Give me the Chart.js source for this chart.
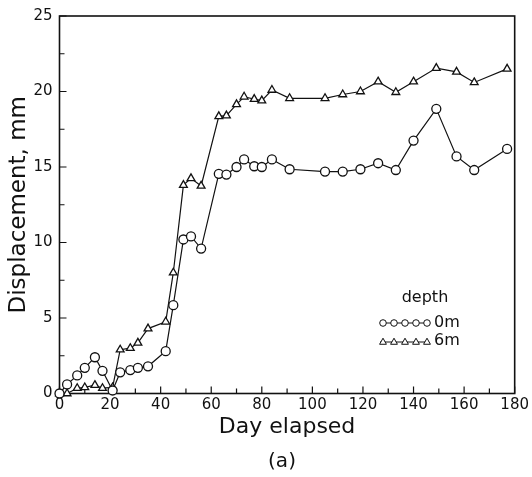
<!DOCTYPE html>
<html>
<head>
<meta charset="utf-8">
<script src="https://cdn.jsdelivr.net/npm/chart.js@4.4.1/dist/chart.umd.min.js"></script>
<style>
  html, body { margin: 0; padding: 0; background: #fff; }
  #wrap { width: 532px; height: 477px; position: relative; }
</style>
</head>
<body>
<div id="wrap"><canvas id="dispChart"></canvas></div>
<script>
// data
const days = [0, 3, 7, 10, 14, 17, 21, 24, 28, 31, 35, 42, 45, 49, 52, 56, 63, 66, 70, 73,
              77, 80, 84, 91, 105, 112, 119, 126, 133, 140, 149, 157, 164, 177];
const disp0m = [0, 0.6, 1.2, 1.7, 2.4, 1.5, 0.2, 1.4, 1.55, 1.7, 1.8, 2.8, 5.85, 10.2, 10.4, 9.6,
                14.55, 14.5, 15.0, 15.5, 15.05, 15.0, 15.5, 14.85, 14.7, 14.7, 14.85, 15.25, 14.8,
                16.75, 18.85, 15.7, 14.8, 16.2];
const disp6m = [0, 0, 0.35, 0.4, 0.55, 0.35, 0.4, 2.9, 3.0, 3.35, 4.3, 4.75, 8.0, 13.8, 14.25, 13.75,
                18.35, 18.4, 19.15, 19.65, 19.5, 19.4, 20.1, 19.55, 19.55, 19.8, 20.0, 20.65, 19.95,
                20.65, 21.55, 21.3, 20.6, 21.5];
const seriesLabels = ['0m', '6m'];
const xTicks = [0, 20, 40, 60, 80, 100, 120, 140, 160, 180];
const yTicks = [0, 5, 10, 15, 20, 25];

document.addEventListener("DOMContentLoaded", function () {
    try {
        Chart.defaults.font.family = "'DejaVu Sans', sans-serif";
        Chart.defaults.color = '#111';

        const ink = '#111';

        // small marker helpers (legend only)
        function circleAt(ctx, x, y, r) {
            ctx.beginPath();
            ctx.arc(x, y, r, 0, Math.PI * 2);
            ctx.fill();
            ctx.stroke();
        }
        function triangleAt(ctx, x, y, r) {
            ctx.beginPath();
            ctx.moveTo(x, y - r);
            ctx.lineTo(x + r * 0.9, y + r * 0.6);
            ctx.lineTo(x - r * 0.9, y + r * 0.6);
            ctx.closePath();
            ctx.fill();
            ctx.stroke();
        }

        // ==========================================
        // frame + inward ticks
        // ==========================================
        const frameTicks = {
            id: 'frameTicks',
            beforeDatasetsDraw(chart) {
                const ctx = chart.ctx;
                const a = chart.chartArea;
                const xs = chart.scales.x, ys = chart.scales.y;
                ctx.save();
                ctx.strokeStyle = ink;
                ctx.lineWidth = 1.2;
                ctx.beginPath();
                for (let i = 0; i < xTicks.length; i++) {
                    const px = xs.getPixelForValue(xTicks[i]);
                    ctx.moveTo(px, a.bottom);
                    ctx.lineTo(px, a.bottom - 7);
                    if (i < xTicks.length - 1) {
                        const pm = xs.getPixelForValue((xTicks[i] + xTicks[i + 1]) / 2);
                        ctx.moveTo(pm, a.bottom);
                        ctx.lineTo(pm, a.bottom - 5);
                    }
                }
                for (let i = 0; i < yTicks.length; i++) {
                    const py = ys.getPixelForValue(yTicks[i]);
                    ctx.moveTo(a.left, py);
                    ctx.lineTo(a.left + 7, py);
                    if (i < yTicks.length - 1) {
                        const pm = ys.getPixelForValue((yTicks[i] + yTicks[i + 1]) / 2);
                        ctx.moveTo(a.left, pm);
                        ctx.lineTo(a.left + 5, pm);
                    }
                }
                ctx.stroke();
                ctx.lineWidth = 1.6;
                ctx.strokeRect(a.left, a.top, a.right - a.left, a.bottom - a.top);
                ctx.restore();
            },
            afterDraw(chart) {
                const ctx = chart.ctx;
                ctx.save();
                ctx.fillStyle = ink;
                ctx.textBaseline = 'middle';

                // legend box, drawn by hand
                ctx.font = "16px 'DejaVu Sans'";
                ctx.textAlign = 'center';
                ctx.fillText('depth', 425, 298);
                ctx.textAlign = 'left';
                ctx.fillText(seriesLabels[0], 434, 323);
                ctx.fillText(seriesLabels[1], 434, 341);

                ctx.strokeStyle = ink;
                ctx.lineWidth = 1;
                ctx.beginPath();
                ctx.moveTo(380, 323); ctx.lineTo(429, 323);
                ctx.moveTo(380, 342); ctx.lineTo(429, 342);
                ctx.stroke();
                ctx.fillStyle = '#fff';
                for (let k = 0; k < 5; k++) {
                    const mx = 383 + k * 11;
                    circleAt(ctx, mx, 323, 3.3);
                    triangleAt(ctx, mx, 342, 3.8);
                }

                // panel caption
                ctx.fillStyle = ink;
                ctx.font = "20px 'DejaVu Sans'";
                ctx.textAlign = 'center';
                ctx.fillText('(a)', 282, 462);
                ctx.restore();
            }
        };

        // ==========================================
        // line chart
        // ==========================================
        const canvas = document.getElementById('dispChart');
        new Chart(canvas.getContext('2d'), {
            type: 'line',
            data: {
                datasets: [
                    {
                        label: seriesLabels[0],
                        data: days.map((d, i) => ({ x: d, y: disp0m[i] })),
                        borderColor: ink,
                        borderWidth: 1.2,
                        pointStyle: 'circle',
                        pointRadius: 4.5,
                        pointBorderWidth: 1.3,
                        pointBackgroundColor: '#fff',
                        pointBorderColor: ink,
                        tension: 0,
                        clip: false
                    },
                    {
                        label: seriesLabels[1],
                        data: days.map((d, i) => ({ x: d, y: disp6m[i] })),
                        borderColor: ink,
                        borderWidth: 1.2,
                        pointStyle: 'triangle',
                        pointRadius: 4.5,
                        pointBorderWidth: 1.3,
                        pointBackgroundColor: '#fff',
                        pointBorderColor: ink,
                        tension: 0,
                        clip: false
                    }
                ]
            },
            options: {
                responsive: true,
                maintainAspectRatio: false,
                animation: false,
                events: [],
                layout: { padding: { left: 0, right: 17, top: 14, bottom: 0 } },
                plugins: {
                    legend: { display: false },
                    tooltip: { enabled: false }
                },
                scales: {
                    x: {
                        type: 'linear',
                        min: 0,
                        max: 180,
                        afterBuildTicks: s => { s.ticks = xTicks.map(v => ({ value: v })); },
                        afterFit: s => { s.height = 83.5; },
                        grid: { display: false, drawTicks: false },
                        border: { display: false },
                        ticks: { padding: 3, maxRotation: 0, font: { size: 15 }, color: ink },
                        title: {
                            display: true,
                            text: 'Day elapsed',
                            color: ink,
                            font: { size: 22 },
                            padding: { top: 0, bottom: 37 }
                        }
                    },
                    y: {
                        min: 0,
                        max: 25,
                        afterBuildTicks: s => { s.ticks = yTicks.map(v => ({ value: v })); },
                        afterFit: s => { s.width = 59.5; },
                        grid: { display: false, drawTicks: false },
                        border: { display: false },
                        ticks: { padding: 7, font: { size: 15 }, color: ink },
                        title: {
                            display: true,
                            text: 'Displacement, mm',
                            color: ink,
                            font: { size: 23 },
                            padding: { top: 5, bottom: 0 }
                        }
                    }
                }
            },
            plugins: [frameTicks]
        });
    } catch (error) {
        console.error("chart failed:", error);
    }
});
</script>
</body>
</html>
